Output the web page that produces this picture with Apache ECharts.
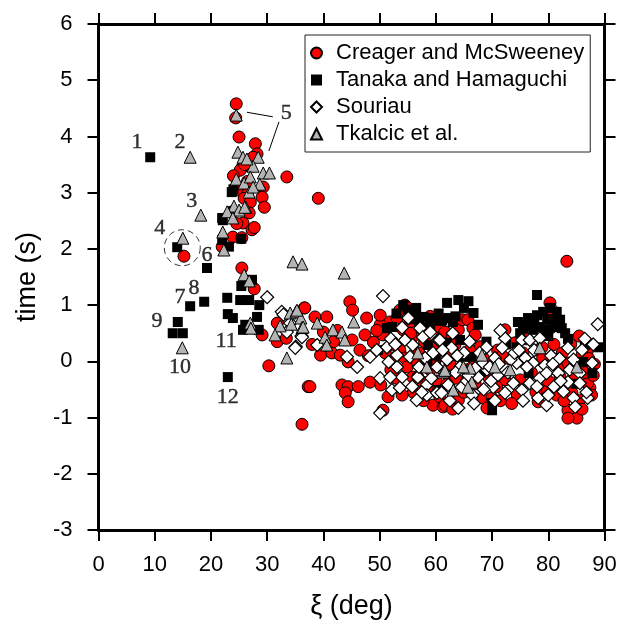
<!DOCTYPE html>
<html><head><meta charset="utf-8">
<script src="https://cdn.jsdelivr.net/npm/echarts@6/dist/echarts.min.js"></script>
<style>html,body{margin:0;padding:0;background:#fff}#c{width:620px;height:625px}</style>
</head><body><div id="c"></div>
<script>
const seriesNames = ['Creager and McSweeney', 'Tanaka and Hamaguchi', 'Souriau', 'Tkalcic et al.'];
const creager = [
[24.5,4.58],[24.4,4.33],[25.0,3.99],[27.9,3.87],[28.2,3.69],[27.5,3.63],[25.5,3.44],[25.2,3.40],[26.0,3.50],[33.5,3.28],[24.0,3.30],[26.5,3.20],[29.3,3.10],[24.8,3.05],[29.1,2.92],[26.5,2.98],[25.9,2.90],[39.1,2.90],[27.0,2.83],[29.5,2.74],[23.8,2.66],[26.8,2.64],[25.7,2.46],[24.6,2.45],[27.3,2.34],[27.7,2.38],[23.9,2.21],[25.5,2.20],[22.0,2.04],[15.2,1.87],[25.5,1.66],[27.7,1.29],
[36.6,0.95],[31.8,0.68],[31.8,0.35],[33.4,0.41],[30.3,-0.08],[37.3,-0.45],[36.2,-1.12],[29.1,0.47],
[36.7,0.95],[44.7,1.06],[45.2,0.91],[47.7,0.77],[38.5,0.79],[40.6,0.79],[40.0,0.52],[39.5,0.11],[41.5,0.15],[43.0,0.11],[44.4,-0.01],[45.1,0.38],[47.4,0.47],[43.3,-0.42],[44.4,-0.45],[43.9,-0.56],[44.4,-0.72],[46.2,-0.45],[48.3,-0.37],[37.6,-0.45],[50.6,-0.87],[50.2,-0.42],[51.5,-0.63],[41.8,0.35],[42.5,0.55],[46.5,0.20],[48.0,0.10],[38.0,0.30],
[53.6,0.20],[52.4,0.29],[54.2,0.56],[51.8,0.70],[50.1,0.65],[50.6,0.47],[48.9,0.34],[50.1,0.82],[53.6,0.91],[53.1,0.77],[55.4,0.70],[60.7,0.56],[62.0,0.50],[54.5,0.06],[54.9,-0.10],[56.7,-0.01],[57.7,-0.37],[59.0,-0.15],[59.5,-0.78],[61.3,-0.81],[55.9,-0.28],[56.8,-0.28],[54.5,1.00],[55.0,0.95],
[60.7,0.61],[61.6,0.52],[62.9,0.43],[64.0,0.56],[64.7,0.74],[65.7,0.74],[66.6,0.59],[67.0,0.47],[67.9,0.26],[63.4,0.29],[63.1,0.11],[60.7,-0.63],[61.6,-0.78],[64.0,-0.69],[68.4,-0.65],[70.0,-0.65],[69.1,-0.83],
[56.0,0.45],[58.0,0.35],[57.0,0.15],[59.5,0.25],[58.5,-0.45],[56.0,-0.55],[53.0,-0.30],[52.5,0.05],[51.0,0.15],[55.5,0.50],[57.5,0.60],[59.0,0.80],[61.0,0.10],[62.5,-0.05],[63.5,-0.30],[65.5,-0.15],[66.0,0.20],[68.5,0.05],[67.0,-0.40],[69.5,-0.30],[60.0,-0.35],
[72.3,0.56],[74.1,0.33],[72.3,-0.33],[75.0,-0.33],[76.7,-0.03],[79.1,-0.51],[78.2,-0.72],[80.3,1.04],[80.7,0.91],[79.7,0.50],[78.0,0.20],[78.9,0.25],[81.8,-0.10],[83.5,-0.03],[83.5,-0.87],[85.1,-1.01],[83.5,-1.01],[84.2,-0.56],[85.6,-0.69],[87.4,-0.47],[87.7,-0.60],[87.0,-0.39],[86.9,0.17],[86.0,0.11],[87.2,0.05],[82.1,-0.28],[83.3,1.78],
[71.0,0.20],[73.0,0.05],[74.5,-0.60],[77.0,-0.20],[80.5,0.60],[81.0,0.30],[82.5,0.15],[84.0,0.30],[86.5,-0.20],[88.0,-0.25],[71.5,-0.70],[76.0,0.40],[81.5,-0.60],[79.0,0.05],
[49.5,0.55],[52.0,-0.15],[54.0,-0.60],[57.8,-0.70],[59.8,-0.05],[62.0,-0.40],[63.0,-0.85],[65.0,-0.55],[66.5,-0.10],[70.8,-0.45],[73.5,-0.75],[77.8,-0.55],[80.0,-0.35],[82.8,-0.70],[84.8,-0.30],[86.0,-0.85],[88.2,-0.05],[71.8,0.10],[75.5,0.15],[85.5,0.45]
];
const tanaka = [
[9.2,3.63],[14.0,2.03],[19.3,1.66],[18.8,1.06],[16.3,0.98],[14.1,0.70],[13.2,0.50],[15.0,0.50],[23.0,-0.28],
[22.9,1.13],[23.0,0.84],[23.9,0.77],[25.2,1.09],[26.8,1.09],[28.6,1.00],[28.2,0.79],[25.7,0.56],[28.5,0.56],[26.1,0.65],[25.4,1.34],[27.3,1.45],
[22.1,2.51],[25.4,2.18],[22.0,2.16],[23.2,2.04],[23.7,2.67],[23.7,3.01],[22.0,2.55],[24.0,3.06],
[54.2,1.00],[55.0,0.92],[62.0,1.04],[51.3,0.59],[52.2,0.61],[49.7,0.20],[56.3,0.79],[57.8,0.79],[59.5,0.77],[61.1,0.73],[62.2,0.77],[60.4,-0.51],[58.6,0.29],[62.0,0.33],
[64.0,1.09],[65.8,1.07],[66.7,0.86],[60.7,0.72],[65.2,0.08],[66.4,0.08],[70.0,-0.87],[70.0,-0.74],[65.5,-0.28],
[78.0,1.18],[74.6,0.70],[76.4,0.77],[78.0,0.82],[79.1,0.88],[80.3,0.95],[81.5,0.88],[82.1,0.74],[82.4,0.59],[78.5,0.61],[79.7,0.56],[77.3,0.56],[75.5,0.59],[80.9,0.61],[79.8,0.74],
[86.5,0.29],[88.9,0.25],[87.8,-0.21],[86.2,-0.01],[74.4,0.25],[76.5,-0.21],[84.5,-0.10],[64.3,0.38],[63.0,0.70],
[53.0,0.85],[56.5,0.95],[58.0,0.60],[60.0,0.10],[67.5,0.65],[68.0,-0.20],[83.5,0.40],[85.0,-0.40],[58.5,-0.05],[72.5,0.30],[69.0,0.35],
[55.5,0.75],[57.0,0.70],[59.0,0.65],[60.5,0.85],[63.5,0.80],[65.0,0.95],[76.0,0.65],[77.5,0.70],[81.0,0.75],[83.0,0.50],[75.0,0.50],[80.0,0.45]
];
const souriau = [
[30.0,1.14],[32.6,0.88],[34.1,0.68],[33.5,0.52],[36.1,0.45],[35.1,0.26],[32.9,0.83],[50.6,1.16],[35.0,0.24],[36.2,0.43],[38.9,0.29],[44.2,0.08],[46.0,-0.10],[48.3,0.08],[50.1,-0.30],[50.1,-0.92],
[51.3,0.25],[51.6,-0.01],[53.1,-0.10],[54.0,-0.28],[52.2,-0.51],[55.1,0.77],[57.2,0.59],[54.5,0.38],[57.7,0.43],[59.0,0.52],[60.4,0.38],[55.9,0.29],[55.4,0.08],[58.1,0.06],[60.2,-0.10],[56.8,-0.28],[58.4,-0.42],[56.6,-0.69],[58.4,-0.60],[60.2,-0.56],[51.9,-0.28],[53.6,-0.47],[53.1,0.11],
[72.3,0.41],[75.3,0.38],[76.7,0.38],[78.5,0.41],[71.8,0.24],[75.9,0.06],[77.3,-0.03],[79.4,-0.07],[74.4,-0.03],[70.5,0.06],[69.1,-0.15],[67.5,-0.28],[73.3,0.03],[70.2,-0.46],[72.3,-0.56],[73.8,-0.39],[75.3,-0.51],[76.7,-0.39],[78.5,-0.30],[79.7,-0.21],[79.7,-0.78],[78.2,-0.65],
[81.8,-0.21],[82.7,-0.54],[83.5,-0.37],[84.5,-0.65],[84.8,-0.81],[83.5,0.24],[84.5,0.03],[85.6,-0.21],[85.6,-0.39],[87.8,-0.03],[88.8,0.66],
[64.0,-0.83],[62.2,-0.42],[64.6,-0.46],[61.0,-0.56],[62.0,0.03],[60.7,0.38],[62.8,0.24],[64.3,-0.10],[67.0,-0.12],[68.4,-0.03],[69.6,-0.10],
[66.0,0.35],[65.0,0.15],[63.5,-0.20],[66.5,-0.60],[68.5,-0.50],[71.0,-0.25],[77.5,0.20],[80.5,0.10],[82.0,0.05],[86.5,0.40],[87.0,-0.65],[81.0,-0.45],[74.0,0.15],[57.0,-0.10],[59.5,0.15],[61.5,-0.20],[63.0,0.50],[65.5,-0.35],[69.0,0.25],[71.5,0.55],[80.0,-0.60],[54.0,0.60],[52.0,0.40],
[49.5,0.20],[52.8,0.30],[55.8,-0.45],[57.5,-0.55],[59.2,-0.30],[61.2,0.20],[63.8,0.10],[65.8,-0.25],[67.8,0.15],[69.8,-0.35],[71.2,-0.05],[72.8,-0.20],[74.8,0.20],[76.2,-0.10],[78.0,-0.45],[80.8,-0.05],[82.2,-0.35],[83.8,-0.15],[86.0,0.20],[88.0,0.30],[86.8,-0.55],[75.5,-0.70],[70.5,-0.70],[66.8,-0.75],[62.5,-0.70]
];
const tkalcic = [
[16.3,3.63],[18.2,2.60],[15.0,2.19],[14.9,0.24],[24.5,4.38],
[24.8,3.72],[25.7,3.63],[28.4,3.63],[27.5,3.47],[29.3,3.35],[30.4,3.35],[26.4,3.60],[24.5,3.24],[25.9,3.17],[27.0,3.28],[28.7,3.15],[26.8,3.01],[27.5,3.10],[26.2,2.74],[24.1,2.76],[22.9,2.66],[25.0,2.69],[26.0,2.74],[23.9,2.55],[22.1,2.30],[22.3,1.98],[25.9,1.54],[26.8,1.43],[27.0,0.68],[27.1,0.59],
[34.6,1.77],[36.2,1.73],[33.5,0.06],[34.1,0.86],[35.1,0.88],[36.0,0.77],[34.3,0.66],[36.2,0.60],[32.3,0.63],[31.4,0.47],[43.7,1.57],[35.3,0.91],[36.4,0.61],[38.9,0.68],[40.3,0.43],[40.6,0.29],[41.7,0.56],[43.3,0.52],[43.8,0.38],[45.4,0.70],
[56.8,0.15],[58.4,-0.10],[61.3,-0.19],[68.2,0.11],[70.5,-0.10],[73.2,-0.15],[66.1,-0.12],[64.9,-0.10],[61.6,-0.16],[63.1,-0.51],[66.4,-0.37],[65.7,-0.46],[78.5,0.24],[85.1,-0.10]
];
const annotations = [
[6.85,3.90,'1'],[14.5,3.90,'2'],[16.6,2.85,'3'],[10.9,2.37,'4'],[33.4,4.42,'5'],[19.3,1.89,'6'],
[14.5,1.14,'7'],[17.0,1.30,'8'],[10.4,0.72,'9'],[14.5,-0.10,'10'],[22.7,0.36,'11'],[23.0,-0.64,'12']
];
const annotationLines = [[[26.4,4.43],[31.0,4.35]],[[32.1,4.26],[30.3,3.74]]];
const circledPoint = [[14.9,2.02]];
const xRange = [0, 90, 10];
const yRange = [-3, 6, 1];

const FONT = 'Liberation Sans, Arial, Helvetica, sans-serif';
const axisLineStyle = {show: true, onZero: false, lineStyle: {color: '#000', width: 3}};
const tick = {show: true, inside: false, length: 11, lineStyle: {color: '#000', width: 2}};
const chart = echarts.init(document.getElementById('c'), null, {renderer: 'canvas'});
chart.setOption({
  animation: false,
  backgroundColor: '#fff',
  grid: {left: 98.5, right: 15.5, top: 24, bottom: 95, containLabel: false},
  legend: {
    data: seriesNames, orient: 'vertical', left: 305, top: 35,
    itemWidth: 11, itemHeight: 11, itemGap: 5,
    padding: [7, 6, 7, 5], borderColor: '#222', borderWidth: 1,
    formatter: name => '{a|' + name + '}',
    textStyle: {fontFamily: FONT, fontSize: 22, lineHeight: 22, color: '#000',
      rich: {a: {fontFamily: FONT, fontSize: 22, lineHeight: 22, color: '#000', padding: [0, 0, 0, 9]}}}
  },
  xAxis: [
    {type: 'value', position: 'bottom', min: xRange[0], max: xRange[1], interval: xRange[2],
     axisLine: axisLineStyle, axisTick: tick, splitLine: {show: false},
     axisLabel: {margin: 24, fontSize: 22, fontFamily: FONT, color: '#000'},
     name: 'ξ (deg)', nameLocation: 'middle', nameGap: 63,
     nameTextStyle: {fontSize: 27, fontFamily: FONT, color: '#000'}},
    {type: 'value', position: 'top', min: xRange[0], max: xRange[1], interval: xRange[2],
     axisLine: axisLineStyle, axisTick: tick, splitLine: {show: false}, axisLabel: {show: false}}
  ],
  yAxis: [
    {type: 'value', position: 'left', min: yRange[0], max: yRange[1], interval: yRange[2],
     axisLine: axisLineStyle, axisTick: tick, splitLine: {show: false},
     axisLabel: {margin: 26, fontSize: 22, fontFamily: FONT, color: '#000'},
     name: 'time (s)', nameLocation: 'middle', nameGap: 57, nameRotate: 90,
     nameTextStyle: {fontSize: 27, fontFamily: FONT, color: '#000'}},
    {type: 'value', position: 'right', min: yRange[0], max: yRange[1], interval: yRange[2],
     axisLine: axisLineStyle, axisTick: tick, splitLine: {show: false}, axisLabel: {show: false}}
  ],
  series: [
    {name: seriesNames[0], type: 'scatter', data: creager, symbol: 'circle', symbolSize: 12,
     itemStyle: {color: '#ff0000', borderColor: '#000', borderWidth: 1, opacity: 1}},
    {name: seriesNames[1], type: 'scatter', data: tanaka, symbol: 'rect', symbolSize: 10,
     itemStyle: {color: '#000', opacity: 1}},
    {name: seriesNames[2], type: 'scatter', data: souriau, symbol: 'diamond', symbolSize: 13,
     itemStyle: {color: '#fff', borderColor: '#000', borderWidth: 1.2, opacity: 1}},
    {name: seriesNames[3], type: 'scatter', data: tkalcic, symbol: 'triangle', symbolSize: 12,
     itemStyle: {color: '#b4b4b4', borderColor: '#000', borderWidth: 1, opacity: 1}},
    {name: 'circle', type: 'scatter', data: circledPoint, symbol: 'circle', symbolSize: 36, silent: true,
     itemStyle: {color: 'rgba(0,0,0,0)', borderColor: '#000', borderWidth: 1, borderType: [6, 4]}, z: 5},
    {name: 'annotations', type: 'scatter', data: annotations, symbolSize: 1, silent: true, z: 6,
     itemStyle: {color: 'rgba(0,0,0,0)'},
     label: {show: true, position: 'inside', formatter: p => p.value[2],
             fontFamily: 'Liberation Serif, Times New Roman, serif', fontSize: 22, color: '#000',
             textBorderColor: '#000', textBorderWidth: 0.4},
     markLine: {silent: true, symbol: 'none', label: {show: false},
                lineStyle: {color: '#000', width: 1, type: 'solid'},
                data: annotationLines.map(s => [{coord: s[0]}, {coord: s[1]}])}}
  ]
});
</script></body></html>
